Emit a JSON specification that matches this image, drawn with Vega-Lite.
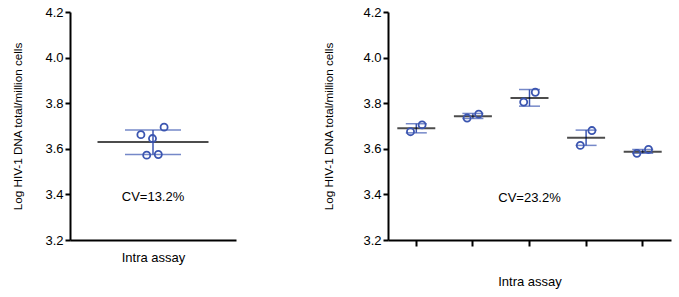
{
  "$schema": "https://vega.github.io/schema/vega-lite/v6.json",
  "padding": {"left": 12, "top": 6, "right": 5, "bottom": 5},
  "background": "white",
  "config": {
    "view": {"stroke": null},
    "font": "Liberation Sans",
    "axis": {"grid": false, "domainColor": "black", "domainWidth": 2, "tickColor": "black", "tickWidth": 2, "labelColor": "black", "titleColor": "black", "titleFontWeight": "normal"}
  },
  "spacing": 87,
  "resolve": {"scale": {"x": "independent", "y": "independent", "xOffset": "independent"}},
  "hconcat": [
    {
      "width": 166,
      "height": 228,
      "data": {"values": [
        {"g": "A", "rep": "1", "v": 3.662},
        {"g": "A", "rep": "2", "v": 3.572},
        {"g": "A", "rep": "3", "v": 3.645},
        {"g": "A", "rep": "4", "v": 3.575},
        {"g": "A", "rep": "5", "v": 3.695}
      ]},
      "encoding": {
        "x": {"field": "g", "type": "nominal", "scale": {"paddingInner": 0, "paddingOuter": 0},
          "axis": {"title": "Intra assay", "labels": false, "ticks": false, "titleFontSize": 13, "titlePadding": 11}}
      },
      "layer": [
        {
          "data": {"values": [{"g": "A", "mean": 3.63, "lo": 3.575, "hi": 3.683}]},
          "mark": {"type": "rule", "color": "#3B55B0", "strokeWidth": 1.5},
          "encoding": {
            "y": {"field": "lo", "type": "quantitative", "scale": {"domain": [3.2, 4.2]},
              "axis": {"title": "Log HIV-1 DNA total/million cells", "values": [3.2, 3.4, 3.6, 3.8, 4.0, 4.2], "format": ".1f", "labelFontSize": 13, "titleFontSize": 11.7, "tickSize": 5, "titlePadding": 21}},
            "y2": {"field": "hi"}
          }
        },
        {
          "data": {"values": [{"g": "A", "mean": 3.63, "lo": 3.575, "hi": 3.683}]},
          "mark": {"type": "tick", "color": "#3B55B0", "thickness": 1.5, "size": 56},
          "encoding": {"y": {"field": "lo", "type": "quantitative"}}
        },
        {
          "data": {"values": [{"g": "A", "mean": 3.63, "lo": 3.575, "hi": 3.683}]},
          "mark": {"type": "tick", "color": "#3B55B0", "thickness": 1.5, "size": 56},
          "encoding": {"y": {"field": "hi", "type": "quantitative"}}
        },
        {
          "data": {"values": [{"g": "A", "mean": 3.63, "lo": 3.575, "hi": 3.683}]},
          "mark": {"type": "tick", "color": "black", "thickness": 2, "size": 111},
          "encoding": {"y": {"field": "mean", "type": "quantitative"}}
        },
        {
          "mark": {"type": "point", "shape": "circle", "filled": false, "color": "#3B55B0", "strokeWidth": 1.8, "size": 50, "opacity": 1},
          "encoding": {
            "y": {"field": "v", "type": "quantitative"},
            "xOffset": {"field": "rep", "type": "nominal", "scale": {"range": [68, 97]}}
          }
        },
        {
          "data": {"values": [{"g": "A", "v": 3.39, "label": "CV=13.2%"}]},
          "mark": {"type": "text", "fontSize": 13, "color": "black", "baseline": "middle"},
          "encoding": {"y": {"field": "v", "type": "quantitative"}, "text": {"field": "label"}}
        }
      ]
    },
    {
      "width": 283,
      "height": 228,
      "data": {"values": [
        {"g": "1", "rep": "1", "v": 3.675},
        {"g": "1", "rep": "2", "v": 3.705},
        {"g": "2", "rep": "1", "v": 3.735},
        {"g": "2", "rep": "2", "v": 3.752},
        {"g": "3", "rep": "1", "v": 3.805},
        {"g": "3", "rep": "2", "v": 3.848},
        {"g": "4", "rep": "1", "v": 3.615},
        {"g": "4", "rep": "2", "v": 3.68},
        {"g": "5", "rep": "1", "v": 3.58},
        {"g": "5", "rep": "2", "v": 3.597}
      ]},
      "encoding": {
        "x": {"field": "g", "type": "nominal", "scale": {"paddingInner": 0, "paddingOuter": 0, "domain": ["1", "2", "3", "4", "5"]},
          "axis": {"title": "Intra assay", "labels": false, "ticks": true, "tickSize": 6, "titleFontSize": 13, "titlePadding": 28}}
      },
      "layer": [
        {
          "data": {"values": [
            {"g": "1", "mean": 3.69, "lo": 3.67, "hi": 3.71},
            {"g": "2", "mean": 3.743, "lo": 3.733, "hi": 3.755},
            {"g": "3", "mean": 3.823, "lo": 3.787, "hi": 3.86},
            {"g": "4", "mean": 3.648, "lo": 3.615, "hi": 3.682},
            {"g": "5", "mean": 3.587, "lo": 3.58, "hi": 3.597}
          ]},
          "mark": {"type": "rule", "color": "#3B55B0", "strokeWidth": 1.5},
          "encoding": {
            "y": {"field": "lo", "type": "quantitative", "scale": {"domain": [3.2, 4.2]},
              "axis": {"title": "Log HIV-1 DNA total/million cells", "values": [3.2, 3.4, 3.6, 3.8, 4.0, 4.2], "format": ".1f", "labelFontSize": 13, "titleFontSize": 11.7, "tickSize": 5, "titlePadding": 28}},
            "y2": {"field": "hi"}
          }
        },
        {
          "data": {"values": [
            {"g": "1", "mean": 3.69, "lo": 3.67, "hi": 3.71},
            {"g": "2", "mean": 3.743, "lo": 3.733, "hi": 3.755},
            {"g": "3", "mean": 3.823, "lo": 3.787, "hi": 3.86},
            {"g": "4", "mean": 3.648, "lo": 3.615, "hi": 3.682},
            {"g": "5", "mean": 3.587, "lo": 3.58, "hi": 3.597}
          ]},
          "mark": {"type": "tick", "color": "#3B55B0", "thickness": 1.5, "size": 21},
          "encoding": {"y": {"field": "lo", "type": "quantitative"}}
        },
        {
          "data": {"values": [
            {"g": "1", "mean": 3.69, "lo": 3.67, "hi": 3.71},
            {"g": "2", "mean": 3.743, "lo": 3.733, "hi": 3.755},
            {"g": "3", "mean": 3.823, "lo": 3.787, "hi": 3.86},
            {"g": "4", "mean": 3.648, "lo": 3.615, "hi": 3.682},
            {"g": "5", "mean": 3.587, "lo": 3.58, "hi": 3.597}
          ]},
          "mark": {"type": "tick", "color": "#3B55B0", "thickness": 1.5, "size": 21},
          "encoding": {"y": {"field": "hi", "type": "quantitative"}}
        },
        {
          "data": {"values": [
            {"g": "1", "mean": 3.69, "lo": 3.67, "hi": 3.71},
            {"g": "2", "mean": 3.743, "lo": 3.733, "hi": 3.755},
            {"g": "3", "mean": 3.823, "lo": 3.787, "hi": 3.86},
            {"g": "4", "mean": 3.648, "lo": 3.615, "hi": 3.682},
            {"g": "5", "mean": 3.587, "lo": 3.58, "hi": 3.597}
          ]},
          "mark": {"type": "tick", "color": "black", "thickness": 2, "size": 38},
          "encoding": {"y": {"field": "mean", "type": "quantitative"}}
        },
        {
          "mark": {"type": "point", "shape": "circle", "filled": false, "color": "#3B55B0", "strokeWidth": 1.8, "size": 50, "opacity": 1},
          "encoding": {
            "y": {"field": "v", "type": "quantitative"},
            "xOffset": {"field": "rep", "type": "nominal", "scale": {"range": [16.7, 39.9]}}
          }
        },
        {
          "data": {"values": [{"g": "3", "v": 3.386, "label": "CV=23.2%"}]},
          "mark": {"type": "text", "fontSize": 13, "color": "black", "baseline": "middle"},
          "encoding": {"y": {"field": "v", "type": "quantitative"}, "text": {"field": "label"}}
        }
      ]
    }
  ]
}
